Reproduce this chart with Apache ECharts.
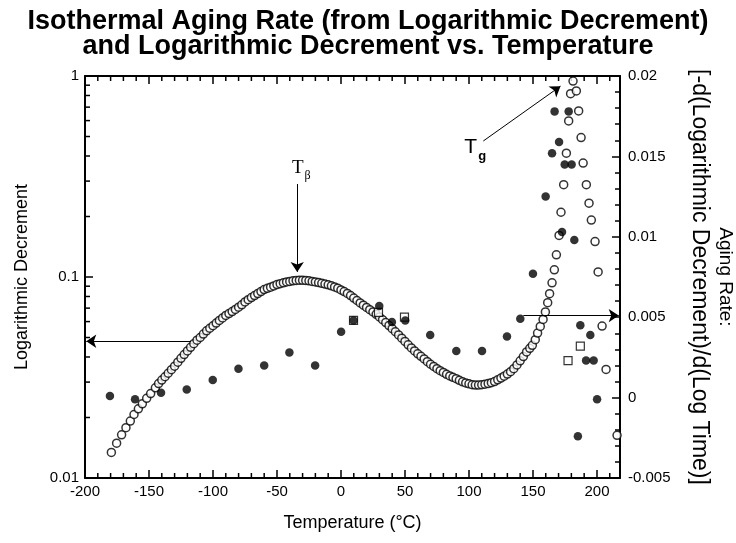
<!DOCTYPE html>
<html>
<head>
<meta charset="utf-8">
<script src="https://cdn.jsdelivr.net/npm/echarts@6/dist/echarts.min.js"></script>
<style>
html, body { margin: 0; padding: 0; background: #fff; }
#chart { width: 736px; height: 543px; }
</style>
</head>
<body>
<div id="chart"></div>
<script>
// logarithmic decrement (open circles, left log axis)
const decTemp = [
  -179.4, -175.3, -171.4, -168.0, -164.6, -161.7, -158.3, -155.2, -151.8, -148.7,
  -145, -142.5, -140, -137.5, -135, -132.5, -130, -127.5, -125, -122.5,
  -120, -117.5, -115, -112.5, -110, -107.5, -105, -102.5, -100, -97.5,
  -95, -92.5, -90, -87.5, -85, -82.5, -80, -77.5, -75, -72.5,
  -70, -67.5, -65, -62.5, -60, -57.5, -55, -52.5, -50, -47.5,
  -45, -42.5, -40, -37.5, -35, -32.5, -30, -27.5, -25, -22.5,
  -20, -17.5, -15, -12.5, -10, -7.5, -5, -2.5, 0, 2.5,
  5, 7.5, 10, 12.5, 15, 17.5, 20, 22.5, 25, 27.5,
  30, 32.5, 35, 37.5, 40, 42.5, 45, 47.5, 50, 52.5,
  55, 57.5, 60, 62.5, 65, 67.5, 70, 72.5, 75, 77.5,
  80, 82.5, 85, 87.5, 90, 92.5, 95, 97.5, 100, 102.5,
  105, 107.5, 110, 112.5, 115, 117.5, 120, 122.5, 125, 127.5,
  130, 132.5, 135, 137.5, 140, 142.5, 145, 147.5,
  149.5, 151.8, 153.6, 155.7, 157.9, 159.7, 161.5, 163.0, 164.9, 166.7,
  168.3, 170.4, 171.9, 174.0, 176.1, 177.9, 179.4, 181.3, 183.9, 185.7,
  187.6, 189.2, 191.7, 193.8, 195.6, 198.5, 200.9, 204.0, 207.1, 215.7
]
const decValue = [
  0.0134, 0.0149, 0.0164, 0.0178, 0.0192, 0.0207, 0.0221, 0.0234, 0.0249, 0.0263,
  0.0281, 0.0295, 0.0307, 0.0319, 0.0332, 0.0346, 0.0360, 0.0377, 0.0394, 0.0411,
  0.0429, 0.0447, 0.0466, 0.0485, 0.0500, 0.0520, 0.0540, 0.0556, 0.0572, 0.0590,
  0.0608, 0.0626, 0.0644, 0.0658, 0.0673, 0.0690, 0.0708, 0.0727, 0.0752, 0.0771,
  0.0790, 0.0808, 0.0827, 0.0846, 0.0866, 0.0878, 0.0890, 0.0903, 0.0917, 0.0926,
  0.0936, 0.0945, 0.0951, 0.0957, 0.0962, 0.0964, 0.0963, 0.0961, 0.0957, 0.0951,
  0.0945, 0.0938, 0.0930, 0.0922, 0.0914, 0.0904, 0.0893, 0.0880, 0.0862, 0.0846,
  0.0828, 0.0808, 0.0786, 0.0764, 0.0743, 0.0724, 0.0706, 0.0688, 0.0670, 0.0652,
  0.0633, 0.0613, 0.0593, 0.0573, 0.0553, 0.0534, 0.0515, 0.0496, 0.0478, 0.0460,
  0.0444, 0.0429, 0.0415, 0.0403, 0.0391, 0.0379, 0.0368, 0.0359, 0.0350, 0.0342,
  0.0335, 0.0328, 0.0322, 0.0317, 0.0312, 0.0306, 0.0301, 0.0297, 0.0294, 0.0291,
  0.0290, 0.0290, 0.0291, 0.0293, 0.0295, 0.0298, 0.0302, 0.0308, 0.0314, 0.0321,
  0.0329, 0.0338, 0.0350, 0.0365, 0.0383, 0.0402, 0.0424, 0.0442,
  0.0457, 0.0488, 0.0526, 0.0568, 0.0615, 0.0670, 0.0745, 0.0826, 0.0936, 0.1086,
  0.129, 0.161, 0.21, 0.288, 0.413, 0.598, 0.817, 0.944, 0.843, 0.67,
  0.494, 0.369, 0.288, 0.233, 0.192, 0.15, 0.106, 0.057, 0.0347, 0.0163
]

// aging rate, filled circles (right axis)
const rateTemp = [
  -180.5, -160.9, -140.6, -120.5, -100.2, -80.1, -60.0, -40.3, -20.2, 0.1,
  9.8, 29.9, 39.8, 50.2, 69.7, 90.1, 110.2, 129.7, 140.1, 150.0,
  159.9, 164.9, 166.9, 170.4, 172.7, 174.8, 177.9, 180.2, 182.3, 185.1,
  187.0, 191.5, 194.8, 197.4, 200.1
]
const rateValue = [
  0.0001, -0.0001, 0.0003, 0.0005, 0.0011, 0.0018, 0.0020, 0.0028, 0.0020, 0.0041,
  0.0048, 0.0057, 0.0047, 0.0048, 0.0039, 0.0029, 0.0029, 0.0038, 0.0049, 0.0077,
  0.0125, 0.0152, 0.0178, 0.0159, 0.0103, 0.0145, 0.0178, 0.0145, 0.0098, -0.0024,
  0.0045, 0.0023, 0.0039, 0.0023, -0.0001
]

// aging rate, open squares (right axis)
const squareTemp = [9.8, 29.3, 49.6, 177.4, 187.0]
const squareValue = [0.0048, 0.0053, 0.0050, 0.0023, 0.0032]

// minor ticks the axes don't draw by themselves
const logMinorTicks = [0.02, 0.03, 0.04, 0.05, 0.06, 0.07, 0.08, 0.09,
  0.2, 0.3, 0.4, 0.5, 0.6, 0.7, 0.8, 0.9]
const tempMinorTicks = [-190, -180, -170, -160, -140, -130, -120, -110, -90, -80,
  -70, -60, -40, -30, -20, -10, 10, 20, 30, 40, 60, 70, 80, 90, 110, 120, 130, 140,
  160, 170, 180, 190, 210]

const xMin = -200
const xMax = 218
const font = 'Liberation Sans'
const zip = (a, b) => a.map((v, i) => [v, b[i]])

const tickStyle = { stroke: '#000', lineWidth: 1.5 }
const axisLine = { onZero: false, lineStyle: { color: '#000', width: 2 } }
const axisTick = { inside: true, length: 8, lineStyle: { color: '#000', width: 1.5 } }

const chart = echarts.init(document.getElementById('chart'))
chart.setOption({
  animation: false,
  backgroundColor: '#fff',
  title: {
    text: 'Isothermal Aging Rate (from Logarithmic Decrement)\nand Logarithmic Decrement vs. Temperature',
    left: 'center',
    top: 4,
    textStyle: { fontFamily: font, fontWeight: 'bold', fontSize: 27, lineHeight: 25, color: '#000' }
  },
  grid: { left: 85, right: 116, top: 76, bottom: 65, outerBoundsMode: 'none' },
  xAxis: [
    {
      type: 'value', min: xMin, max: xMax, interval: 50, position: 'bottom',
      name: 'Temperature (°C)', nameLocation: 'middle', nameGap: 36, nameMoveOverlap: false,
      nameTextStyle: { fontFamily: font, fontSize: 18, color: '#000' },
      axisLine, axisTick,
      axisLabel: { fontFamily: font, fontSize: 15, color: '#000', margin: 6, showMaxLabel: false },
      splitLine: { show: false }
    },
    {
      type: 'value', min: xMin, max: xMax, interval: 50, position: 'top',
      axisLine, axisTick,
      axisLabel: { show: false },
      splitLine: { show: false }
    }
  ],
  yAxis: [
    {
      type: 'log', logBase: 10, min: 0.01, max: 1, position: 'left',
      name: 'Logarithmic Decrement', nameLocation: 'middle', nameRotate: 90, nameGap: 54,
      nameMoveOverlap: false,
      nameTextStyle: { fontFamily: font, fontSize: 18, color: '#000' },
      axisLine, axisTick,
      axisLabel: { fontFamily: font, fontSize: 15, color: '#000', margin: 6 },
      splitLine: { show: false }
    },
    {
      type: 'value', min: -0.005, max: 0.02, interval: 0.005, position: 'right',
      name: '{a|Aging Rate:}\n{b|[-d(Logarithmic Decrement)/d(Log Time)]}',
      nameLocation: 'middle', nameRotate: -90, nameGap: 66, nameMoveOverlap: false,
      nameTextStyle: {
        fontFamily: font, color: '#000',
        rich: {
          a: { fontFamily: font, fontSize: 19, color: '#000', lineHeight: 26 },
          b: { fontFamily: font, fontSize: 23, color: '#000', lineHeight: 26 }
        }
      },
      axisLine, axisTick,
      minorTick: { show: true, splitNumber: 5, length: 5, lineStyle: { color: '#000', width: 1.5 } },
      axisLabel: { fontFamily: font, fontSize: 15, color: '#000', margin: 8 },
      splitLine: { show: false },
      minorSplitLine: { show: false }
    }
  ],
  series: [
    {
      name: 'Logarithmic Decrement',
      type: 'scatter',
      xAxisIndex: 0, yAxisIndex: 0,
      symbol: 'circle', symbolSize: 8,
      itemStyle: { color: '#fff', borderColor: '#000', borderWidth: 1.5 },
      data: zip(decTemp, decValue),
      markLine: {
        silent: true,
        symbol: ['none', 'arrow'],
        symbolSize: 10,
        lineStyle: { color: '#000', width: 1, type: 'solid' },
        label: { show: false },
        data: [
          [{ coord: [-34.2, 0.29] }, { coord: [-34.2, 0.106] }],
          [{ coord: [-117.1, 0.0479] }, { coord: [-199, 0.0479] }],
          [{ coord: [111.2, 0.475] }, { coord: [171.5, 0.89] }]
        ]
      },
      markPoint: {
        silent: true,
        symbol: 'circle', symbolSize: 0,
        data: [
          {
            coord: [-31, 0.349],
            label: {
              show: true, position: 'inside', formatter: '{t|T}{s|β}',
              rich: {
                t: { fontFamily: 'Liberation Serif', fontSize: 19, color: '#000' },
                s: { fontFamily: 'Liberation Serif', fontSize: 12, color: '#000', padding: [16, 0, 0, 1] }
              }
            }
          },
          {
            coord: [104.9, 0.44],
            label: {
              show: true, position: 'inside', formatter: '{t|T}{s|g}',
              rich: {
                t: { fontFamily: font, fontSize: 21, color: '#000' },
                s: { fontFamily: font, fontWeight: 'bold', fontSize: 13, color: '#000', padding: [18, 0, 0, 1] }
              }
            }
          }
        ]
      }
    },
    {
      name: 'Aging Rate (squares)',
      type: 'scatter',
      xAxisIndex: 0, yAxisIndex: 1,
      symbol: 'rect', symbolSize: 8,
      itemStyle: { color: '#fff', borderColor: '#000', borderWidth: 1.2 },
      data: zip(squareTemp, squareValue)
    },
    {
      name: 'Aging Rate',
      type: 'scatter',
      xAxisIndex: 0, yAxisIndex: 1,
      symbol: 'circle', symbolSize: 8.5,
      itemStyle: { color: '#000' },
      data: zip(rateTemp, rateValue),
      markLine: {
        silent: true,
        symbol: ['none', 'arrow'],
        symbolSize: 10,
        lineStyle: { color: '#000', width: 1, type: 'solid' },
        label: { show: false },
        data: [
          [{ coord: [142.5, 0.0051] }, { coord: [217, 0.0051] }]
        ]
      }
    },
    {
      // log minor ticks on the left axis
      type: 'custom',
      xAxisIndex: 0, yAxisIndex: 0,
      silent: true,
      data: logMinorTicks.map(v => [xMin, v]),
      renderItem: (params, api) => {
        const p = api.coord([xMin, api.value(1)])
        return { type: 'line', shape: { x1: p[0], y1: p[1], x2: p[0] + 5, y2: p[1] }, style: tickStyle }
      }
    },
    {
      // minor ticks on the bottom and top temperature axes
      type: 'custom',
      xAxisIndex: 0, yAxisIndex: 0,
      silent: true,
      data: tempMinorTicks.map(t => [t, 0.01]),
      renderItem: (params, api) => {
        const b = api.coord([api.value(0), 0.01])
        const t = api.coord([api.value(0), 1])
        return {
          type: 'group',
          children: [
            { type: 'line', shape: { x1: b[0], y1: b[1], x2: b[0], y2: b[1] - 5 }, style: tickStyle },
            { type: 'line', shape: { x1: t[0], y1: t[1], x2: t[0], y2: t[1] + 5 }, style: tickStyle }
          ]
        }
      }
    }
  ]
})
</script>
</body>
</html>
